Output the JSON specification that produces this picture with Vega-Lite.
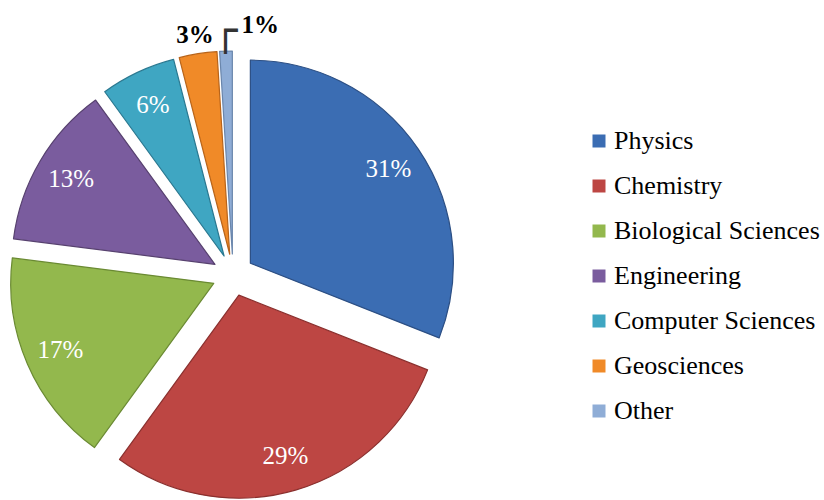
{
  "$schema": "https://vega.github.io/schema/vega-lite/v6.json",
  "width": 466,
  "height": 500,
  "autosize": {"type": "none"},
  "padding": {"left": 0, "top": 25, "right": 358, "bottom": 0},
  "background": "white",
  "data": {
    "values": [
      {"category": "Physics", "value": 31},
      {"category": "Chemistry", "value": 29},
      {"category": "Biological Sciences", "value": 17},
      {"category": "Engineering", "value": 13},
      {"category": "Computer Sciences", "value": 6},
      {"category": "Geosciences", "value": 3},
      {"category": "Other", "value": 1}
    ]
  },
  "encoding": {
    "theta": {"field": "value", "type": "quantitative", "stack": true},
    "order": {"field": "value", "sort": "descending"}
  },
  "layer": [
    {
      "mark": {
        "type": "arc",
        "radius": 203,
        "strokeWidth": 1.2,
        "strokeJoin": "round",
        "xOffset": {"expr": "21*sin(scale('theta', 0.5*datum.value_start + 0.5*datum.value_end))"},
        "yOffset": {"expr": "-21*cos(scale('theta', 0.5*datum.value_start + 0.5*datum.value_end))"}
      },
      "encoding": {
        "color": {
          "field": "category",
          "type": "nominal",
          "sort": ["Physics", "Chemistry", "Biological Sciences", "Engineering", "Computer Sciences", "Geosciences", "Other"],
          "scale": {
            "domain": ["Physics", "Chemistry", "Biological Sciences", "Engineering", "Computer Sciences", "Geosciences", "Other"],
            "range": ["#3B6DB3", "#BD4643", "#93B84D", "#7A5C9E", "#3FA6C2", "#F08A28", "#8FADD6"]
          },
          "legend": {
            "orient": "none",
            "legendX": 586,
            "legendY": 103,
            "title": null,
            "symbolType": "square",
            "symbolSize": 169,
            "symbolStrokeWidth": 0,
            "labelFont": "'Liberation Serif', 'Times New Roman', 'DejaVu Serif', serif",
            "labelFontSize": 26,
            "labelColor": "black",
            "labelLimit": 400,
            "labelOffset": 2,
            "rowPadding": 19
          }
        },
        "stroke": {
          "field": "category",
          "type": "nominal",
          "scale": {
            "domain": ["Physics", "Chemistry", "Biological Sciences", "Engineering", "Computer Sciences", "Geosciences", "Other"],
            "range": ["#2C4F84", "#8A2F2D", "#6A8A32", "#57416F", "#2A7890", "#B8641A", "#6A86AC"]
          },
          "legend": null
        }
      }
    },
    {
      "mark": {
        "type": "text",
        "font": "'Liberation Serif', 'Times New Roman', 'DejaVu Serif', serif",
        "fontSize": 25,
        "radius": {"expr": "datum.value < 5 ? 222 : 167"},
        "fill": {"expr": "datum.value < 5 ? 'black' : 'white'"},
        "fontWeight": {"expr": "datum.value < 5 ? 'bold' : 'normal'"},
        "text": {"expr": "datum.value + '%'"},
        "dx": {"expr": "datum.value < 2 ? 35 : 0"},
        "dy": {"expr": "datum.value < 2 ? -7 : 0"},
        "xOffset": {"expr": "21*sin(scale('theta', 0.5*datum.value_start + 0.5*datum.value_end))"},
        "yOffset": {"expr": "-21*cos(scale('theta', 0.5*datum.value_start + 0.5*datum.value_end))"}
      }
    },
    {
      "mark": {
        "type": "text",
        "font": "DejaVu Sans Mono",
        "fontSize": 40,
        "baseline": "alphabetic",
        "align": "center",
        "radius": 222,
        "fill": "#333333",
        "text": {"expr": "datum.value < 2 ? '┌' : ''"},
        "dy": 12,
        "xOffset": {"expr": "21*sin(scale('theta', 0.5*datum.value_start + 0.5*datum.value_end))"},
        "yOffset": {"expr": "-21*cos(scale('theta', 0.5*datum.value_start + 0.5*datum.value_end))"}
      }
    }
  ]
}
